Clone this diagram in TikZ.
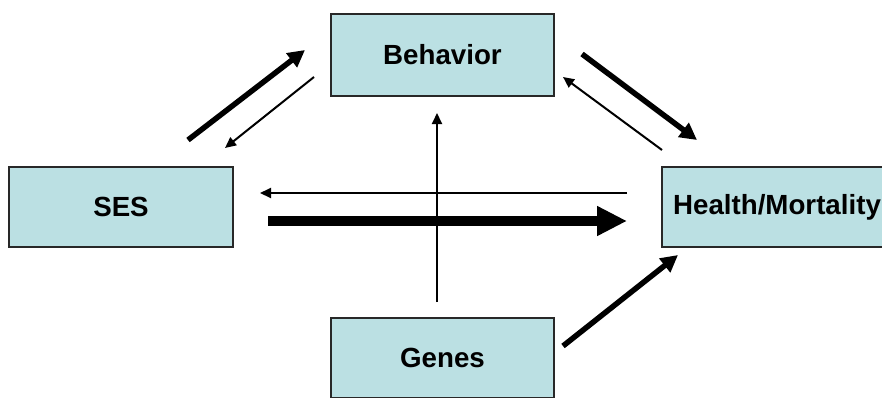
\documentclass[tikz,border=0pt]{standalone}
\usepackage{fontspec}
\setmainfont{Liberation Sans}
\usetikzlibrary{arrows.meta}
\definecolor{boxfill}{RGB}{187,224,227}
\definecolor{boxline}{RGB}{40,40,40}
\tikzset{
  box/.style={draw=boxline, line width=1.5pt, fill=boxfill, rectangle,
    inner sep=0pt, font=\fontsize{27.7}{33}\selectfont\bfseries},
  thinarr/.style={line width=2pt, -{Triangle[length=11pt,width=10pt]}},
  medarr/.style={line width=5.5pt, -{Triangle[length=17pt,width=17pt]}},
  bigarr/.style={line width=10pt, -{Triangle[length=30pt,width=28pt]}}
}
\begin{document}
\begin{tikzpicture}[x=1pt,y=-1pt]
\useasboundingbox (0,0) rectangle (882,397);
\clip (0,0) rectangle (882,397);
\fill[white] (0,0) rectangle (882,397);
\node[box, minimum width=223pt, minimum height=82pt] (beh) at (442.5,55) {Behavior};
\node[box, minimum width=224pt, minimum height=80pt] (ses) at (121,207) {SES};
\node[box, minimum width=230pt, minimum height=80pt] (hm) at (777,207) {Health/Mortality};
\node[box, minimum width=223pt, minimum height=80pt] (genes) at (442.5,358) {Genes};
% connector end points
\coordinate (sb1) at (188,140); \coordinate (sb2) at (305,50);
\coordinate (bs1) at (314,77);  \coordinate (bs2) at (225,148);
\coordinate (bh1) at (582,54);  \coordinate (bh2) at (697,140);
\coordinate (hb1) at (662,150); \coordinate (hb2) at (563,77);
\coordinate (hs1) at (627,193); \coordinate (hs2) at (260,193);
\coordinate (sh1) at (268,221); \coordinate (sh2) at (627,221);
\coordinate (gb1) at (437,302); \coordinate (gb2) at (437,113);
\coordinate (gh1) at (563,346); \coordinate (gh2) at (678,255);
\draw[medarr] (sb1) -- (sb2);
\draw[thinarr] (bs1) -- (bs2);
\draw[medarr] (bh1) -- (bh2);
\draw[thinarr] (hb1) -- (hb2);
\draw[thinarr] (hs1) -- (hs2);
\draw[bigarr] (sh1) -- (sh2);
\draw[thinarr] (gb1) -- (gb2);
\draw[medarr] (gh1) -- (gh2);
\end{tikzpicture}
\end{document}
